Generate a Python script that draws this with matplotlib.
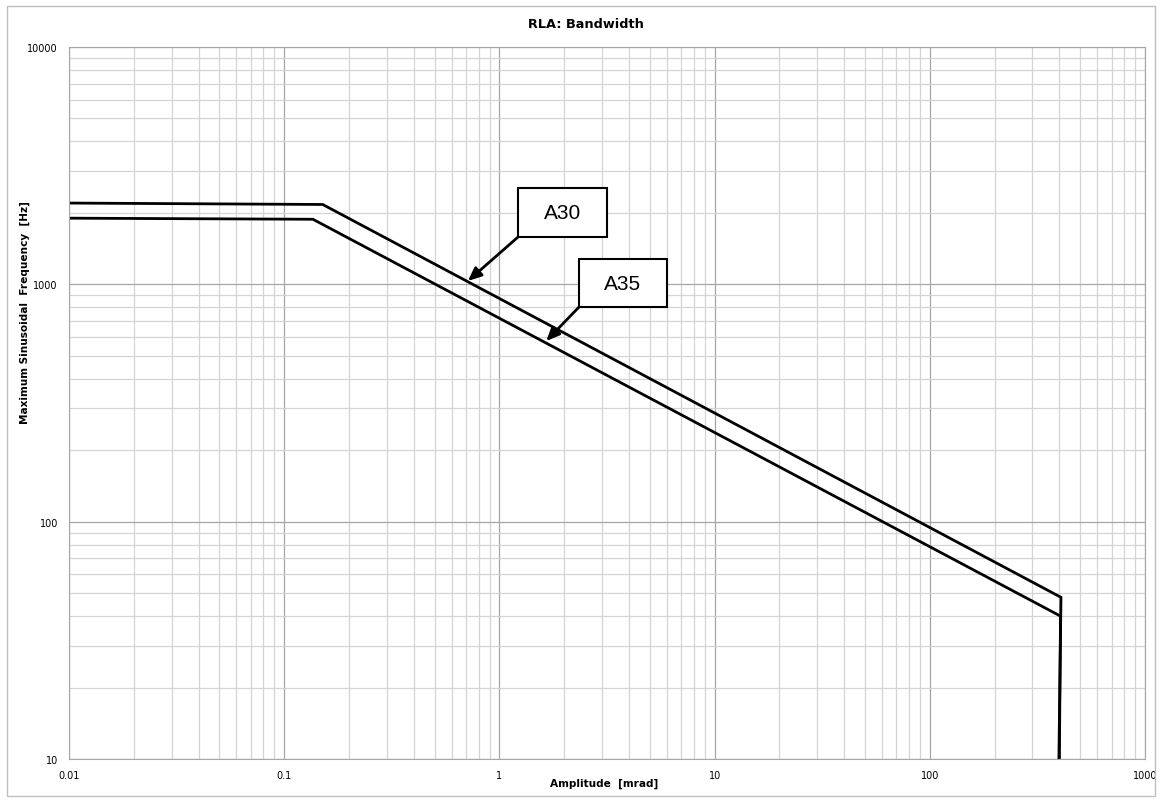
import numpy as np
import matplotlib
matplotlib.use('Agg')
import matplotlib.pyplot as plt
from matplotlib.patches import Rectangle
from matplotlib.ticker import FixedLocator, FixedFormatter, NullFormatter, LogLocator

# bandwidth curves (amplitude in mrad, frequency in Hz)
a30_amp = [0.01, 0.151, 407, 407, 398]
a30_freq = [2200, 2170, 48, 48, 10]
a35_amp = [0.01, 0.136, 405, 400]
a35_freq = [1900, 1880, 40, 10]

x_ticks = [0.01, 0.1, 1, 10, 100, 1000]
x_labels = ['0.01', '0.1', '1', '10', '100', '1000']
y_ticks = [10, 100, 1000, 10000]
y_labels = ['10', '100', '1000', '10000']

# callouts: label, box corners (lower-left, upper-right), arrow tip
callouts = [
    ('A30', (1.22, 1582), (3.16, 2547), (0.714, 1033)),
    ('A35', (2.34, 801), (6.01, 1280), (1.65, 577)),
]

fig = plt.figure(figsize=(11.62, 8.04), dpi=100)
ax = fig.add_axes([69/1162, 1-760/804, (1145-69)/1162, (760-48)/804])

# outer chart border
fig.patches.append(Rectangle((7/1162, 7/804), 1148/1162, 790/804, transform=fig.transFigure,
                             fill=False, edgecolor='#bfbfbf', lw=1))

ax.plot(a30_amp, a30_freq, color='black', lw=2.0, solid_joinstyle='miter')
ax.plot(a35_amp, a35_freq, color='black', lw=2.0, solid_joinstyle='miter')

ax.set_xscale('log')
ax.set_yscale('log')
ax.set_xlim(0.01, 1000)
ax.set_ylim(10, 10000)

ax.xaxis.set_major_locator(FixedLocator(x_ticks))
ax.xaxis.set_major_formatter(FixedFormatter(x_labels))
ax.yaxis.set_major_locator(FixedLocator(y_ticks))
ax.yaxis.set_major_formatter(FixedFormatter(y_labels))
ax.xaxis.set_minor_locator(LogLocator(base=10, subs=np.arange(2, 10), numticks=20))
ax.yaxis.set_minor_locator(LogLocator(base=10, subs=np.arange(2, 10), numticks=20))
ax.xaxis.set_minor_formatter(NullFormatter())
ax.yaxis.set_minor_formatter(NullFormatter())

ax.grid(which='major', color='#a6a6a6', lw=0.9)
ax.grid(which='minor', color='#d4d4d4', lw=0.9)
ax.set_axisbelow(True)
ax.tick_params(which='both', length=0, labelsize=7, pad=8)
for s in ax.spines.values():
    s.set_color('#a6a6a6')

fig.text(586/1162, 1-25/804, 'RLA: Bandwidth', fontsize=9.3, fontweight='bold',
         ha='center', va='center')
ax.set_xlabel('Amplitude  [mrad]', fontsize=7.6, fontweight='bold')
ax.set_ylabel('Maximum Sinusoidal  Frequency  [Hz]', fontsize=7.6, fontweight='bold')
ax.xaxis.set_label_coords(0.497, -0.026)
ax.yaxis.set_label_coords(-0.036, 0.629)

for label, (x0, y0), (x1, y1), (tx, ty) in callouts:
    ax.add_patch(Rectangle((x0, y0), x1 - x0, y1 - y0, fill=True, facecolor='white',
                           edgecolor='black', lw=1.5, zorder=5))
    ax.text(np.sqrt(x0 * x1), np.sqrt(y0 * y1), label, fontsize=15, ha='center', va='center',
            family='Liberation Sans', zorder=6)
    ax.annotate('', xy=(tx, ty), xytext=(x0, y0),
                arrowprops=dict(arrowstyle='-|>,head_length=0.8,head_width=0.35', color='black',
                                lw=2, shrinkA=0, shrinkB=0), zorder=6)

fig.savefig('out.png', dpi=100)
